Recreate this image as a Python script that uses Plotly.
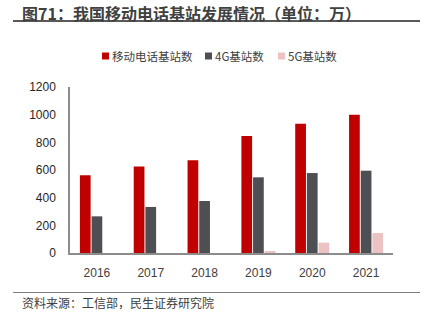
import plotly.graph_objects as go

years = ["2016", "2017", "2018", "2019", "2020", "2021"]
mobile_bs = [562, 625, 670, 846, 935, 1000]
bs_4g = [265, 333, 376, 547, 578, 595]
bs_5g = [None, None, None, 15, 75, 145]

series_names = ["移动电话基站数", "4G基站数", "5G基站数"]
colors = ["#C00000", "#4D4F53", "#EBC3C3"]

font_main = "Liberation Sans, Noto Sans CJK SC, sans-serif"
font_cjk = "Noto Sans CJK SC, sans-serif"

# plot area geometry in pixels (for placing the custom legend/title)
L, R, T, B = 70, 393, 87, 253
PW, PH = R - L, B - T


def px_x(px):
    return (px - L) / PW


def px_y(py):
    return (B - py) / PH


fig = go.Figure()
for name, vals, col in zip(series_names, [mobile_bs, bs_4g, bs_5g], colors):
    fig.add_trace(go.Bar(
        x=years, y=vals, name=name, showlegend=False,
        marker=dict(color=col, line=dict(width=0)),
    ))

# legend drawn as small squares followed by labels
legend_sq_x = [102, 205, 278]
legend_txt_x = [110, 212.5, 285.5]
shapes = []
annotations = []
for name, col, sx, tx in zip(series_names, colors, legend_sq_x, legend_txt_x):
    shapes.append(dict(type="rect", xref="paper", yref="paper",
                       x0=px_x(sx), x1=px_x(sx + 7), y0=px_y(59.5), y1=px_y(52.5),
                       fillcolor=col, line=dict(width=0)))
    annotations.append(dict(text=name, xref="paper", yref="paper",
                            x=px_x(tx), y=px_y(56.5), xanchor="left", yanchor="middle",
                            showarrow=False,
                            font=dict(family=font_cjk, size=11.5, color="#404040")))

shapes += [
    dict(type="line", xref="paper", yref="paper",
         x0=px_x(13), x1=px_x(420), y0=px_y(21), y1=px_y(21),
         line=dict(color="#595959", width=2)),
    dict(type="line", xref="paper", yref="paper",
         x0=px_x(13), x1=px_x(420), y0=px_y(292.5), y1=px_y(292.5),
         line=dict(color="#7F7F7F", width=1.2)),
]
annotations += [
    dict(text="<b>图71：我国移动电话基站发展情况（单位：万）</b>",
         xref="paper", yref="paper", x=px_x(20), y=px_y(12.5),
         xanchor="left", yanchor="middle", showarrow=False,
         font=dict(family=font_cjk, size=16, color="#404040")),
    dict(text="资料来源：工信部，民生证券研究院",
         xref="paper", yref="paper", x=px_x(20), y=px_y(302.5),
         xanchor="left", yanchor="middle", showarrow=False,
         font=dict(family=font_cjk, size=12, color="#404040")),
]

fig.update_layout(
    width=426, height=326,
    margin=dict(l=L, r=426 - R, t=T, b=326 - B),
    paper_bgcolor="white", plot_bgcolor="white",
    barmode="group", bargap=0.35, bargroupgap=0.08,
    font=dict(family=font_main, size=12, color="#404040"),
    xaxis=dict(
        showline=True, linecolor="#8C8C8C", linewidth=1.5,
        ticks="", showgrid=False, ticklabelstandoff=8,
        tickfont=dict(family=font_main, size=12, color="#404040"),
    ),
    yaxis=dict(
        range=[0, 1200], dtick=200, showline=True, linecolor="#8C8C8C",
        linewidth=1.5, ticks="", showgrid=False, zeroline=False,
        ticklabelstandoff=10,
        tickfont=dict(family=font_main, size=12, color="#262626"),
    ),
    shapes=shapes,
    annotations=annotations,
)

fig.write_html("out.html")
